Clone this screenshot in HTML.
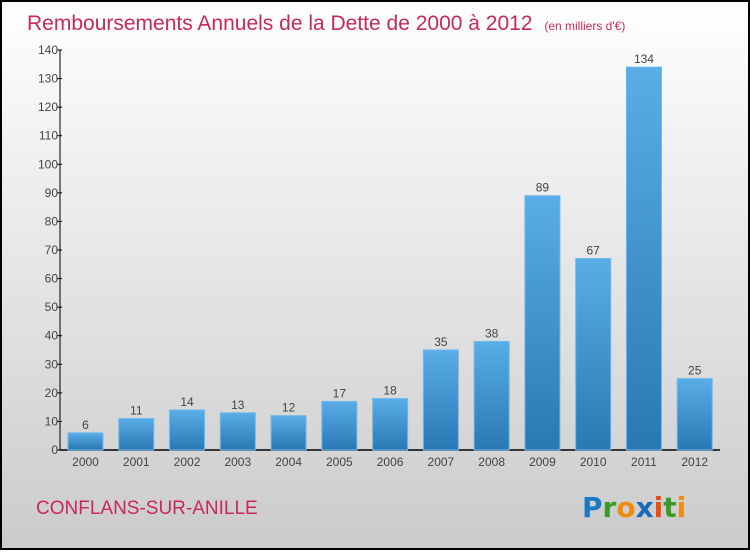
<!DOCTYPE html>
<html><head><meta charset="utf-8"><style>
html,body{margin:0;padding:0;}
body{width:750px;height:550px;overflow:hidden;font-family:"Liberation Sans",sans-serif;}
</style></head><body>
<svg width="750" height="550" xmlns="http://www.w3.org/2000/svg">
<defs>
<linearGradient id="bg" x1="0" y1="0" x2="0" y2="1"><stop offset="0" stop-color="#ffffff"/><stop offset="1" stop-color="#cbcbcb"/></linearGradient>
<linearGradient id="bar" x1="0" y1="0" x2="0" y2="1"><stop offset="0" stop-color="#5aade6"/><stop offset="1" stop-color="#2878b4"/></linearGradient>
</defs>
<rect x="1" y="1" width="748" height="548" fill="url(#bg)" stroke="#000" stroke-width="2"/>
<text x="27" y="30" font-size="21" fill="#c8285a">Remboursements Annuels de la Dette de 2000 à 2012 <tspan font-size="12" dx="6">(en milliers d'€)</tspan></text>
<g id="axes"></g>
<g id="bars"></g>
<text x="36" y="514" font-size="19" fill="#c8285a">CONFLANS-SUR-ANILLE</text>
<text x="582" y="517" font-size="28" font-weight="bold" font-family="'DejaVu Sans',sans-serif"><tspan fill="#1a7ac8">P</tspan><tspan fill="#3a9a2a">r</tspan><tspan fill="#f08a10">o</tspan><tspan fill="#1a6ab8">x</tspan><tspan fill="#e85010">i</tspan><tspan fill="#3a9a2a">t</tspan><tspan fill="#f08a10">i</tspan></text>
</svg>
<script>
const categories=["2000","2001","2002","2003","2004","2005","2006","2007","2008","2009","2010","2011","2012"];
const values=[6,11,14,13,12,17,18,35,38,89,67,134,25];
const yTicks=[0,10,20,30,40,50,60,70,80,90,100,110,120,130,140];
const NS="http://www.w3.org/2000/svg";
const x0=60,x1=720,y0=450,yTop=50,yMax=140;
const y=v=>y0-(v/yMax)*(y0-yTop);
const step=(x1-x0)/categories.length;
const bx=i=>x0+8+i*step;
const bw=35;
function mk(t,a,p){const e=document.createElementNS(NS,t);for(const k in a)e.setAttribute(k,a[k]);p.appendChild(e);return e;}
const ax=document.getElementById('axes'),bg=document.getElementById('bars');
const yl=mk('line',{x1:x0,y1:y0,x2:x0,y2:yTop,stroke:'#000','stroke-width':1},ax);


const xl=mk('line',{x1:x0,y1:y0,x2:x1,y2:y0,stroke:'#000','stroke-width':1.5},ax);


yTicks.forEach(t=>{
  mk('line',{x1:x0-3,y1:y(t),x2:x0+2,y2:y(t),stroke:'#000'},ax);
  const tx=mk('text',{x:x0-2,y:y(t)+4,'font-size':12,fill:'#444','text-anchor':'end'},ax);
  tx.textContent=t;
  
  
});
categories.forEach((c,i)=>{
  const r=mk('rect',{x:bx(i),y:y(values[i]),width:bw,height:y0-y(values[i]),fill:'url(#bar)',stroke:'#6cb8ec','stroke-width':1},bg);
  
  
  const v=mk('text',{x:bx(i)+bw/2,y:y(values[i])-4,'font-size':12,fill:'#444','text-anchor':'middle'},bg);
  v.textContent=values[i];
  
  
  const l=mk('text',{x:bx(i)+bw/2,y:466,'font-size':12,fill:'#444','text-anchor':'middle'},bg);
  l.textContent=c;
  
  
});
</script>
</body></html>
